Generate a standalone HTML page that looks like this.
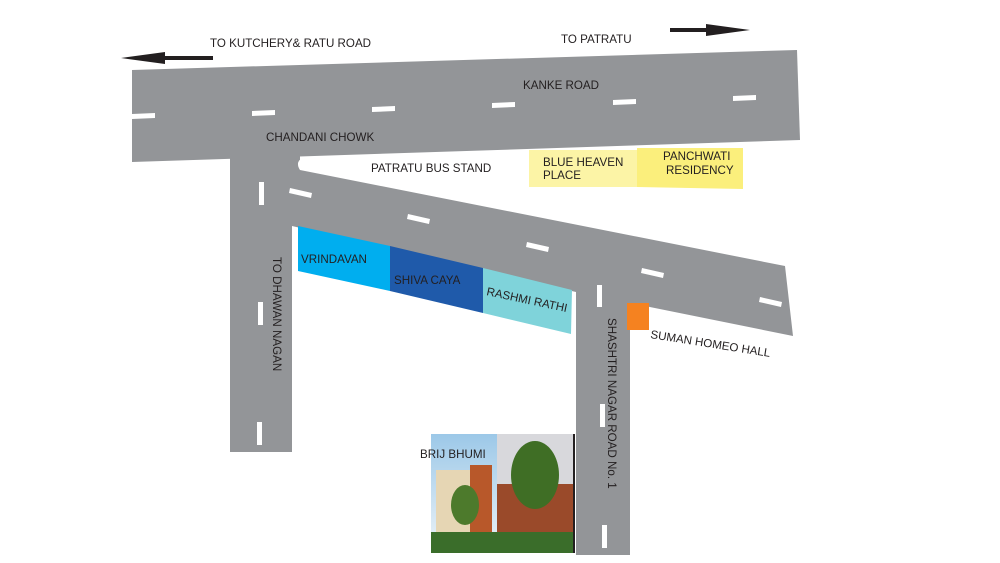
<!DOCTYPE html>
<html><head><style>
html,body{margin:0;padding:0;background:#fff;}
svg{display:block;}
text{font-family:"Liberation Sans",sans-serif;font-size:11.6px;fill:#231f20;}
</style></head><body>
<svg width="1000" height="563" viewBox="0 0 1000 563" xmlns="http://www.w3.org/2000/svg">
<g fill="#939598">
<polygon points="132,70 797,50 800,140 132,162"/>
<rect x="230" y="150" width="62" height="302"/>
<path d="M230,150 L300,150 L300,160 Q296,164 300,170 L785,266 L793,336 L630,303 L576,292 L292,226 L230,226 Z"/>
<rect x="576" y="285" width="54" height="270"/>
</g>
<path d="M298,163 Q300,157 308,157 L330,157 L330,164 L305,169 Q298,168 298,163 Z" fill="#fff"/>
<g fill="#fff">
<polygon points="132,114 155,113 155,118 132,119"/>
<polygon points="252,111 275,110 275,115 252,116"/>
<polygon points="372,107 395,106 395,111 372,112"/>
<polygon points="492,103 515,102 515,107 492,108"/>
<polygon points="613,100 636,99 636,104 613,105"/>
<polygon points="733,96 756,95 756,100 733,101"/>
<polygon points="290,188 312,193 311,198 289,193"/>
<polygon points="408,214 430,219 429,224 407,219"/>
<polygon points="527,242 549,247 548,252 526,247"/>
<polygon points="642,268 664,273 663,278 641,273"/>
<polygon points="760,297 782,302 781,307 759,302"/>
<rect x="259" y="182" width="5" height="23"/>
<rect x="258" y="302" width="5" height="23"/>
<rect x="257" y="422" width="5" height="23"/>
<rect x="597" y="285" width="5" height="22"/>
<rect x="600" y="404" width="5" height="23"/>
<rect x="602" y="525" width="5" height="23"/>
</g>
<polygon points="298,226 390,246 390,291 298,271" fill="#00aeef"/>
<polygon points="390,246 483,268 483,313 390,291" fill="#1f5aaa"/>
<polygon points="483,268 572,290 571,334 483,313" fill="#7fd3da"/>
<rect x="529" y="150" width="108" height="37" fill="#fcf4a6"/>
<polygon points="637,148 743,148 743,189 637,187" fill="#fbef7c"/>
<rect x="627" y="303" width="22" height="27" fill="#f58220"/>
<polygon points="121,58 165,52 165,56 213,56 213,60 165,60 165,64" fill="#231f20"/>
<polygon points="750,30 706,24 706,28 670,28 670,32 706,32 706,36" fill="#231f20"/>
<defs><linearGradient id="sky" x1="0" y1="0" x2="0" y2="1"><stop offset="0" stop-color="#9cc8e8"/><stop offset="1" stop-color="#eef4f8"/></linearGradient></defs>
<rect x="431" y="434" width="143" height="119" fill="url(#sky)"/>
<rect x="436" y="470" width="35" height="65" fill="#e6d6b4"/>
<rect x="470" y="465" width="22" height="70" fill="#b8582a"/>
<rect x="497" y="434" width="77" height="50" fill="#d8d8dc"/>
<rect x="497" y="484" width="77" height="50" fill="#9a4a2a"/>
<ellipse cx="465" cy="505" rx="14" ry="20" fill="#4d7a2c"/>
<ellipse cx="535" cy="475" rx="24" ry="34" fill="#3f6e25"/>
<rect x="431" y="532" width="143" height="21" fill="#3a6d2a"/>
<rect x="573" y="434" width="2" height="119" fill="#231f20"/>
<text x="210" y="47">TO KUTCHERY&amp; RATU ROAD</text>
<text x="561" y="43">TO PATRATU</text>
<text x="523" y="89">KANKE ROAD</text>
<text x="266" y="141">CHANDANI CHOWK</text>
<text x="371" y="172">PATRATU BUS STAND</text>
<text x="543" y="166">BLUE HEAVEN</text>
<text x="543" y="179">PLACE</text>
<text x="663" y="160">PANCHWATI</text>
<text x="666" y="174">RESIDENCY</text>
<text x="301" y="263">VRINDAVAN</text>
<text x="394" y="284">SHIVA CAYA</text>
<text transform="translate(486,295) rotate(12)">RASHMI RATHI</text>
<text transform="translate(650,338) rotate(9)">SUMAN HOMEO HALL</text>
<text transform="translate(273,257) rotate(90)">TO DHAWAN NAGAN</text>
<text transform="translate(608,318) rotate(90)">SHASHTRI NAGAR ROAD No. 1</text>
<text x="420" y="458">BRIJ BHUMI</text>
</svg>
</body></html>
